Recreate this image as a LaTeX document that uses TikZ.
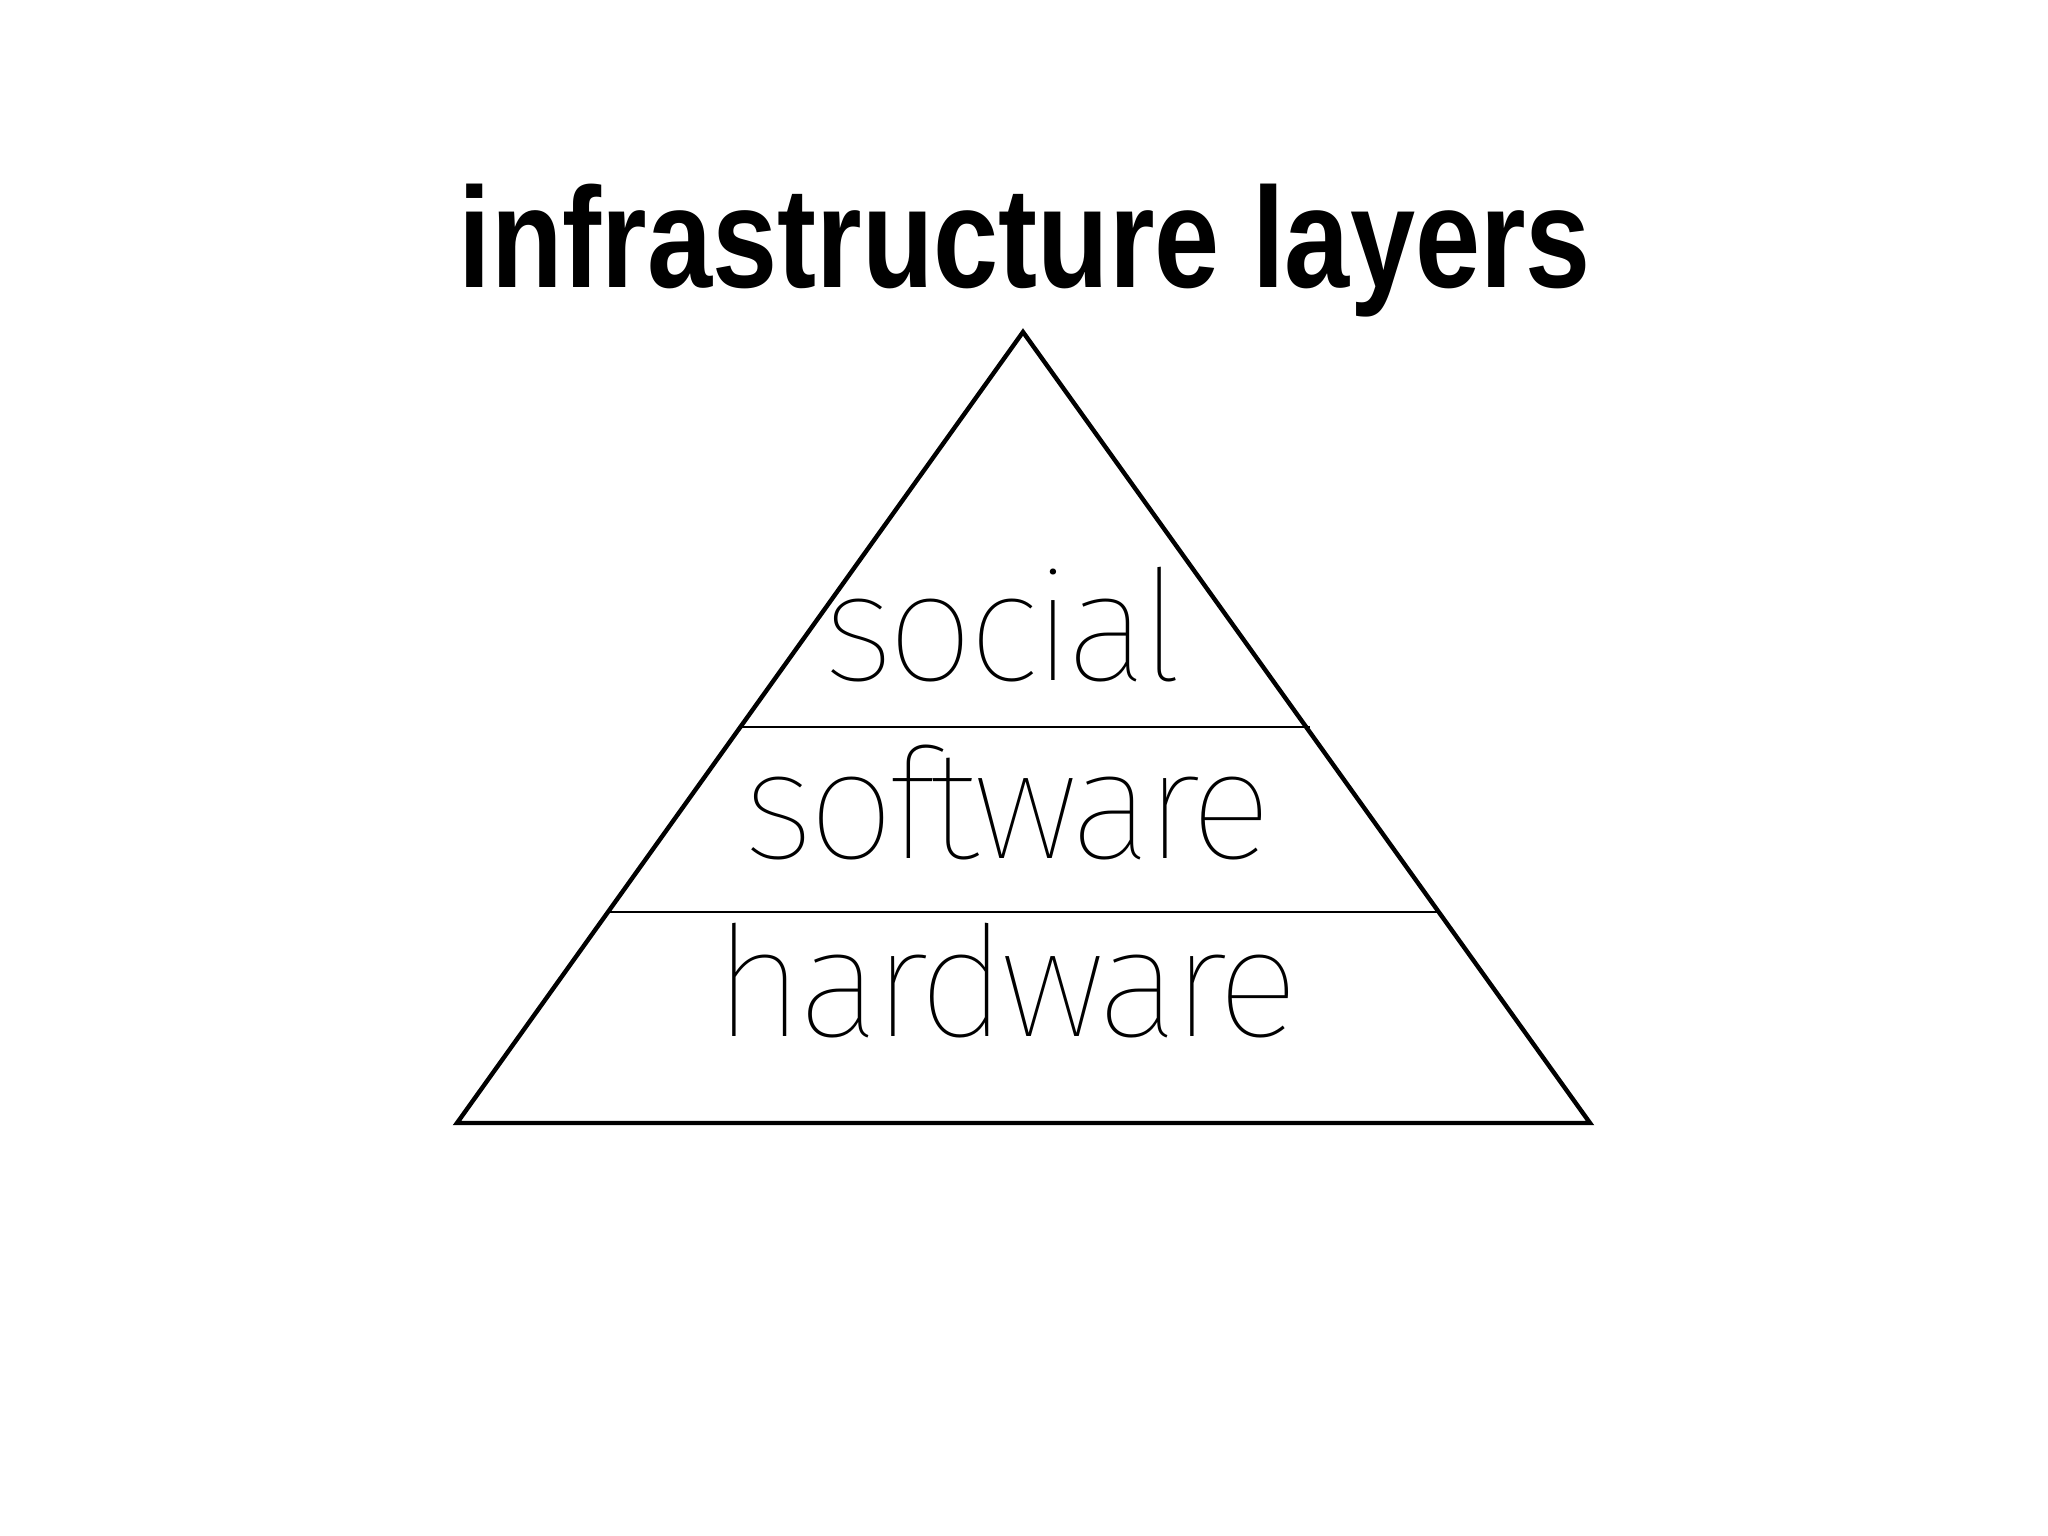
\documentclass[tikz,border=0pt]{standalone}
\usepackage{fontspec}
\setmainfont{Liberation Sans}
\newfontfamily\titlefont{Liberation Sans}[FakeStretch=0.82]
\IfFontExistsTF{Fira Sans Thin}{\newfontfamily\thinfont{Fira Sans Thin}[LetterSpace=-4]}{%
  \IfFontExistsTF{Lato Hairline}{\newfontfamily\thinfont{Lato Hairline}[LetterSpace=-4]}{%
    \IfFontExistsTF{Fira Sans Light}{\newfontfamily\thinfont{Fira Sans Light}[LetterSpace=-4]}{%
      \newfontfamily\thinfont{Fira Sans}[LetterSpace=-4]}}}
\tikzset{
  titletext/.style={anchor=base, inner sep=0pt, font=\titlefont\bfseries\fontsize{40.6}{44}\selectfont},
  layertext/.style={anchor=base, inner sep=0pt, font=\thinfont\fontsize{43.8}{48}\selectfont},
  pyramid/.style={line width=1.25pt, line join=miter},
  divider/.style={line width=0.75pt}
}
\begin{document}
\begin{tikzpicture}[x=0.01cm, y=-0.01cm]
\useasboundingbox (0,0) rectangle (2048,1536);
\node[titletext] (title) at (1025,287) {infrastructure layers};
\coordinate (apex) at (1023,332);
\coordinate (bl) at (457,1123);
\coordinate (br) at (1590,1123);
\draw[pyramid] (apex) -- (br) -- (bl) -- cycle;
\coordinate (d1l) at (739,727);
\coordinate (d1r) at (1310,727);
\coordinate (d2l) at (610,912);
\coordinate (d2r) at (1437,912);
\draw[divider] (d1l) -- (d1r);
\draw[divider] (d2l) -- (d2r);
\node[layertext] (social) at (1003,680) {social};
\node[layertext] (software) at (1008,858) {software};
\node[layertext] (hardware) at (1007,1036) {hardware};
\end{tikzpicture}
\end{document}
